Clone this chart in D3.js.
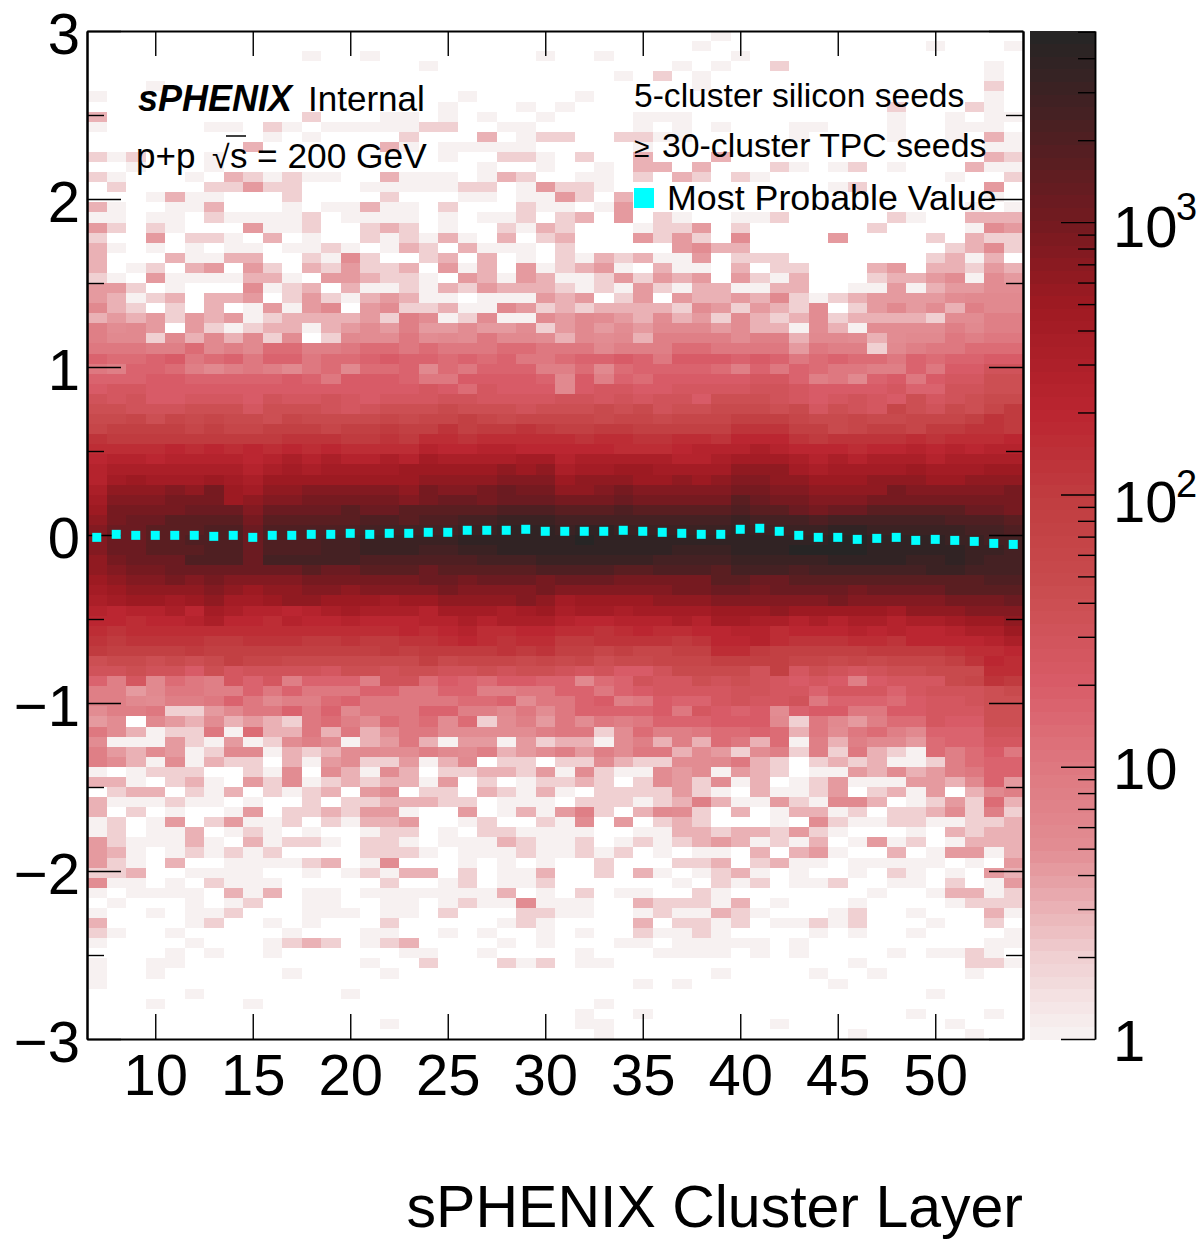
<!DOCTYPE html>
<html>
<head>
<meta charset="utf-8">
<script src="https://cdn.jsdelivr.net/npm/d3@7/dist/d3.min.js"></script>
<style>
  body { margin: 0; background: #fff; }
  text { font-family: "Liberation Sans", Arial, sans-serif; fill: #000; }
</style>
</head>
<body>
<svg id="chart" width="1199" height="1239"></svg>
<script>
// cluster layers on the x axis, one column per layer
const layers = d3.range(7, 55);
const xTicks = [10, 15, 20, 25, 30, 35, 40, 45, 50];
const yMajorTicks = [-3, -2, -1, 0, 1, 2, 3];
const yMinorTicks = [-2.5, -1.5, -0.5, 0.5, 1.5, 2.5];
const zMajorTicks = [1, 10, 100, 1000];
const zMinorTicks = [2, 3, 4, 5, 6, 7, 8, 9, 20, 30, 40, 50, 60, 70, 80, 90,
  200, 300, 400, 500, 600, 700, 800, 900, 2000, 3000, 4000, 5000];
const zLabels = [
  { value: 1, base: '1', power: '', dy: 22, powerDy: 0 },
  { value: 10, base: '10', power: '', dy: 22, powerDy: 0 },
  { value: 100, base: '10', power: '2', dy: 28, powerDy: 3 },
  { value: 1000, base: '10', power: '3', dy: 25, powerDy: -2 },
];
const zMax = 5035;

// counts, one character per cell, index into levelCounts
const levelKeys = '0123456789abcdefghijklmnopqrstuvwxyz';
const levelCounts = [0, 1, 2, 3, 4, 5, 6, 8, 10, 13, 16, 20, 25, 32, 40, 50, 63, 80,
  100, 125, 160, 200, 250, 320, 400, 500, 630, 800, 1000, 1250, 1600, 2000, 2500, 3200, 4000, 5000];

// rows from y = +3 (top) down to y = -3, 0.06 wide
const rowLevels = [
  '000000000000 000000000000 000000001000 000000000000',
  '000000000000 000000000000 000000010000 000000010001',
  '000000000001 001000000001 001000000100 000000000000',
  '000000000000 000001000000 000000101002 000000000010',
  '000000000000 000000000000 000102010000 000000000010',
  '000100000000 000000000000 000000010000 000000000020',
  '100000000000 000000010000 010000000000 000000000010',
  '000000000000 000000100010 100000000000 000002000210',
  '300000000002 000110101001 000011100000 000001001011',
  '100000110210 111112200110 000010101000 110001001110',
  '000000000101 000020003012 200221100000 100001001031',
  '000000003000 000310111110 000010000000 000000000011',
  '212000100000 000000100221 020030003000 000000000032',
  '001000100000 000000001001 001033030002 101201000311',
  '210001032121 100311101320 011020320210 000000001002',
  '020000224220 001111122014 221000000000 001200000040',
  '000131100020 000200011011 420300000000 000000000010',
  '310011300010 113110200021 101400000000 000000000101',
  '110110211112 011110101120 230402100112 000002100333',
  '420210004112 002320100213 200012240200 000020000154',
  '200402210301 002121310302 300042420500 004000020322',
  '310101011011 210132031110 200000453300 000000002352',
  '300031133002 152002303010 213231140222 000000023130',
  '301203404203 242230413041 234103110302 200034033243',
  '210411113310 443221043143 112424340421 300023345154',
  '442010005123 031121324333 212142133113 300114134455',
  '431230334024 213431101114 340240433436 212344445666',
  '632020301414 604522311642 323333254243 250246453766',
  '343424341233 334275125115 465435342532 352333325577',
  '756404212331 345474454452 464546664533 153155557677',
  '766263636250 265585658665 365637777577 366535668788',
  '888779676997 789989888998 886777998888 487726788999',
  'a99ab89a8aa8 99abaa9a9a88 9aaba8bbbaba 89a998a9aabb',
  '87aa97678768 9699a698aaa7 7969aaaa97a8 a98877a8bbdd',
  'aaabbaaaaaba 8bbba88bbbba 6b7a9bbbbbcc a786ab8bccee',
  'bccbbbbbbbbb bbbbbcb9cbbb 6bccbbccccdd cbbbbcaaddee',
  'dcdbbcccbdcc dcbcccddcccc ddcdcddbeeed cbcdcbecdeff',
  'eedddeeeceee dcdeeefeeede eefefdeefffe fcedcgedfegi',
  'ffgegfgffegf fffgfgghgfgg ggfggfggghhh gffgffggghji',
  'ghhhhghgghhh ghhihhjhiiji hhiihhhhhjjj hhfghhgiijji',
  'jiiiiiiiiijj jiijikkjkkkk kjkkjjkkjlll jijjjjkjkkkl',
  'kkkklklklklk lkkkkmllmmll lllkkklmmmnm lllkllmlmlmm',
  'lmmlmmmmlmnm nmmnmonnnnoo mnnnnnmmnooo nmnmnnnmnnnn',
  'mnnnnnnnmnon oooopppppqpq nooppooooqqq onoooopooopp',
  'mopoooponppp pppppqqqqrrr pqqqppqpqrrq qpppqqqppqqq',
  'nqqqrqspoqqr rrrrqsrrstss qqrsrrrrrssr rqqqqsrrrrrs',
  'orrrssspqrrs ssssrsttsttt ssstsssssuts srrrssssssss',
  'psssstttrttt tuttuuuuuvvv uuuvuuuuuvuu tsttuuuuutts',
  'qsttuuuusuuu uuvvuvvwwxxx wwwwwwwwwxww wvwwwwwwvvvu',
  'rttuuuvvtvvv vvwwwwwxxyyy xyyxxxxxxyxx xxyyxxxxxwwv',
  'rttuuvvvtvvv wwxxxxxyyyyy yzyyyyyyyyyy yyzzyyyyxxww',
  'rttuuuvvtvvv wwxxxwwxxyyy yyyyyyxxxyyy zzzzyyyyyxxw',
  'qstttvvvtwww wwvvvvvvwwwx xxxxxwwwwxxx xxyyyyxxyxww',
  'qrsstttttttu ttuuutuuuuuv vvvuuvvvuwww vwwwwwwxxwww',
  'pqrrsrsrrrrs sssssttsttts tttsssssuutt uuuuuuuuuuvv',
  'opqqqqrqpqqr rqrrrrsrrrrs rrrrrrssttst tttsttttuuuu',
  'noppopqoopqq pppoppqqqqrq oppppqqqrrrr rrsrrrrrssst',
  'mlmmnlonmmlm nonnnmooonop noonoooopppq pppppoqqqrrr',
  'llkllmnllkml lmlllmmnmnnn mllmmmnmoonn mnmnnmnnoppq',
  'kjkkkkkkkkkk kkkklklmkkll kkjklkkllmmk lllmlmllmnnp',
  'jijjjjiijjji ijiijjklkjkk iijjjjijllmk jjjkkjllllmn',
  'ihhhhihhhhhh hhhihiiiijij hhghgghhkkih hhhhiiiijkkl',
  'effefefhggff fffffhfgggfg fgeffggghhhh ggfgfggghjlk',
  'ddeddbecdddd ceedeeddedee dcdbbdffffdh cedcdeefffkk',
  'a7c6987cac7a aa7dd9ba9bba a69adccededc bcb7bcccfgji',
  '77468877a8a8 88aa88aa7788 aa8abccccddc cacccacdddef',
  '7765778a8677 9a8888899a58 8ab78baacdcc d8aaa9bccdee',
  '5778224688a8 a6888aa77685 8aaaab8cbab5 abb88bbcccee',
  '450643534328 975989592574 85878aaabbb6 2864799cbbee',
  '853122819338 383588555557 8825977899a9 3858976aaadd',
  '511142141257 513483144142 331573739839 17376649aacc',
  '743541266132 356557657345 747588354257 2728321979b8',
  '753151322031 452241360220 225322556832 0232311279aa',
  '101222002150 531530223324 152115451432 0114353478aa',
  '331023104251 232331402012 232025425130 1241114436a4',
  '023302130212 304502203213 102222421031 124023140367',
  '311121101002 022333220111 022212373114 216630124293',
  '302010014022 324410040131 472036520301 331202235272',
  '120140241120 213340012002 150402320001 052112211223',
  '120113012101 001220102211 110011332332 421000103233',
  '421113103122 102210111321 120121234312 130141201333',
  '431012121200 002221011121 121201011030 341003014413',
  '421030011112 301500010101 002000223023 110111110104',
  '223001111001 012133020113 002031012310 100102101043',
  '511010211100 000200120112 000000102120 112001102014',
  '101111031301 101111111301 020110021000 000010013312',
  '010001012001 100110121151 110032221301 000100001222',
  '100101120001 110110200022 110012113210 001200100031',
  '300001200101 000200000121 000030221201 121200010020',
  '210010000010 001100101001 010021121000 010100100001',
  '100001000123 201230000101 000110111110 100000000011',
  '000010100100 000011001000 010001111010 100001011210',
  '100110000000 001002000212 011000000000 000100000221',
  '100100000010 000100000000 000000001000 010010000100',
  '100000000000 000000000000 000010100000 001000000000',
  '000001000000 010000000000 000000000000 000000010000',
  '000100001000 000000000000 001000000000 000000000000',
  '000000000000 000000000000 010010000000 000000100010',
  '000000000000 000100000000 011000000001 000000001000',
  '000000000000 000000000000 001000000000 000100000100',
];

// most probable value per layer
const mpvValues = [
  -0.014, 0.004, -0.002, -0.002, -0.002, -0.002, -0.008, -0.002, -0.014, -0.002, -0.002, 0.004,
  0.004, 0.01, 0.004, 0.01, 0.01, 0.016, 0.016, 0.028, 0.028, 0.028, 0.034, 0.022,
  0.022, 0.022, 0.022, 0.028, 0.022, 0.016, 0.01, 0.004, 0.004, 0.034, 0.04, 0.022,
  -0.002, -0.014, -0.014, -0.026, -0.02, -0.014, -0.032, -0.026, -0.032, -0.038, -0.05, -0.056,
];

const rowStrings = rowLevels.map((r) => r.replace(/ /g, ''));

const yBinWidth = 6 / rowStrings.length;
const cells = [];
rowStrings.forEach((row, i) => {
  layers.forEach((layer, j) => {
    const count = levelCounts[levelKeys.indexOf(row[j])];
    if (count > 0) cells.push({ layer, top: 3 - i * yBinWidth, count });
  });
});

const plot = { left: 87, right: 1023, top: 31, bottom: 1039 };
const bar = { left: 1030, right: 1095 };
const tickFont = 58;

const svg = d3.select('#chart');
const x = d3.scaleLinear().domain([6.5, 54.5]).range([plot.left, plot.right]);
const y = d3.scaleLinear().domain([-3, 3]).range([plot.bottom, plot.top]);
const z = d3.scaleLog().domain([1, zMax]).range([plot.bottom, plot.top]);

// colour stops, position in log10(count)
const colorRamp = d3.scaleLinear()
  .domain([0, 0.3, 0.48, 0.7, 1, 1.3, 1.7, 2, 2.3, 2.7, 3, 3.3, Math.log10(zMax)])
  .range(['#f8f4f4', '#f0d0d2', '#eab2b6', '#e28d93', '#de7880', '#d95c68', '#c84a4c',
    '#c03c40', '#bb2530', '#9e1a22', '#741a20', '#501f22', '#252525'])
  .interpolate(d3.interpolateRgb);
const nBands = 80;
const band = d3.scaleQuantize().domain([0, Math.log10(zMax)]).range(d3.range(nBands));
const bandColor = (i) => colorRamp(((i + 0.5) / nBands) * Math.log10(zMax));
const cellColor = (count) => bandColor(band(Math.log10(count)));

// histogram cells
svg.append('g')
  .attr('shape-rendering', 'crispEdges')
  .selectAll('rect')
  .data(cells)
  .join('rect')
    .attr('x', (d) => x(d.layer - 0.5))
    .attr('y', (d) => y(d.top))
    .attr('width', (d) => x(d.layer + 0.5) - x(d.layer - 0.5))
    .attr('height', (d) => y(d.top - yBinWidth) - y(d.top))
    .attr('fill', (d) => cellColor(d.count));

// palette bar
const barEdges = (i) => Math.pow(10, (i / nBands) * Math.log10(zMax));
svg.append('g')
  .attr('shape-rendering', 'crispEdges')
  .selectAll('rect')
  .data(d3.range(nBands))
  .join('rect')
    .attr('x', bar.left)
    .attr('width', bar.right - bar.left)
    .attr('y', (d) => z(barEdges(d + 1)))
    .attr('height', (d) => z(barEdges(d)) - z(barEdges(d + 1)) + 0.5)
    .attr('fill', (d) => bandColor(d));

function styleAxis(g, width, domainWidth = 2) {
  g.selectAll('path.domain').attr('stroke', '#000').attr('stroke-width', domainWidth);
  g.selectAll('line').attr('stroke', '#000').attr('stroke-width', width);
  g.selectAll('text')
    .attr('font-size', tickFont)
    .attr('font-family', '"Liberation Sans", Arial, sans-serif')
    .attr('fill', '#000');
}

const tickFormat = d3.format('d');

svg.append('g')
  .attr('transform', `translate(0,${plot.bottom})`)
  .call(d3.axisBottom(x).tickValues(xTicks).tickSizeInner(-25).tickSizeOuter(0)
    .tickPadding(15).tickFormat(tickFormat))
  .call(styleAxis, 1.4);
svg.append('g')
  .attr('transform', `translate(0,${plot.top})`)
  .call(d3.axisTop(x).tickValues(xTicks).tickSizeInner(-25).tickSizeOuter(0).tickFormat(''))
  .call(styleAxis, 1.4);
svg.append('g')
  .attr('transform', `translate(${plot.left},0)`)
  .call(d3.axisLeft(y).tickValues(yMajorTicks).tickSizeInner(-34).tickSizeOuter(0)
    .tickPadding(7).tickFormat(tickFormat))
  .call(styleAxis, 1.4)
  .call((g) => g.selectAll('text').attr('dy', '0.39em'));
svg.append('g')
  .attr('transform', `translate(${plot.left},0)`)
  .call(d3.axisLeft(y).tickValues(yMinorTicks).tickSizeInner(-17).tickSizeOuter(0).tickFormat(''))
  .call(styleAxis, 1.4);
svg.append('g')
  .attr('transform', `translate(${plot.right},0)`)
  .call(d3.axisRight(y).tickValues(yMajorTicks).tickSizeInner(-34).tickSizeOuter(0).tickFormat(''))
  .call(styleAxis, 1.4);
svg.append('g')
  .attr('transform', `translate(${plot.right},0)`)
  .call(d3.axisRight(y).tickValues(yMinorTicks).tickSizeInner(-17).tickSizeOuter(0).tickFormat(''))
  .call(styleAxis, 1.4);

// palette axis, ticks point into the bar
svg.append('g')
  .attr('transform', `translate(${bar.right},0)`)
  .call(d3.axisRight(z).tickValues(zMajorTicks).tickSizeInner(-34).tickSizeOuter(0).tickFormat(''))
  .call(styleAxis, 1.4, 1.5);
svg.append('g')
  .attr('transform', `translate(${bar.right},0)`)
  .call(d3.axisRight(z).tickValues(zMinorTicks).tickSizeInner(-17).tickSizeOuter(0).tickFormat(''))
  .call(styleAxis, 1.4, 1.5);

const zText = svg.append('g').selectAll('g').data(zLabels).join('g');
zText.append('text')
  .attr('x', 1113)
  .attr('y', (d) => z(d.value) + d.dy)
  .attr('font-size', tickFont)
  .text((d) => d.base);
zText.filter((d) => d.power)
  .append('text')
  .attr('x', 1176)
  .attr('y', (d) => z(d.value) + d.powerDy)
  .attr('font-size', 38)
  .text((d) => d.power);

// axis title
svg.append('text')
  .attr('x', 1023)
  .attr('y', 1227)
  .attr('text-anchor', 'end')
  .attr('font-size', 59)
  .text('sPHENIX Cluster Layer');

// labels inside the frame
svg.append('text').attr('x', 138).attr('y', 111).attr('font-size', 36)
  .attr('font-weight', 'bold').attr('font-style', 'italic').text('sPHENIX');
svg.append('text').attr('x', 308).attr('y', 111).attr('font-size', 35).text('Internal');
svg.append('text').attr('x', 136).attr('y', 168).attr('font-size', 35).text('p+p');
svg.append('text').attr('x', 212).attr('y', 168).attr('font-size', 32).text('√');
svg.append('line').attr('x1', 226).attr('x2', 246).attr('y1', 136).attr('y2', 136)
  .attr('stroke', '#000').attr('stroke-width', 1.5);
svg.append('text').attr('x', 230).attr('y', 168).attr('font-size', 35).text('s');
svg.append('text').attr('x', 257).attr('y', 168).attr('font-size', 35.3).text('= 200 GeV');

svg.append('text').attr('x', 634).attr('y', 107).attr('font-size', 33.6).text('5-cluster silicon seeds');
svg.append('text').attr('x', 634).attr('y', 157).attr('font-size', 28).text('≥');
svg.append('text').attr('x', 662).attr('y', 157).attr('font-size', 33.8).text('30-cluster TPC seeds');
svg.append('rect').attr('x', 634).attr('y', 188).attr('width', 20).attr('height', 20).attr('fill', '#00ffff');
svg.append('text').attr('x', 667).attr('y', 210).attr('font-size', 35.8).text('Most Probable Value');

// most probable value markers
svg.append('g')
  .selectAll('rect')
  .data(layers.map((layer, i) => ({ layer, mpv: mpvValues[i] })))
  .join('rect')
    .attr('x', (d) => x(d.layer) - 4.5)
    .attr('y', (d) => y(d.mpv) - 4.5)
    .attr('width', 9)
    .attr('height', 9)
    .attr('fill', '#00ffff');
</script>
</body>
</html>
